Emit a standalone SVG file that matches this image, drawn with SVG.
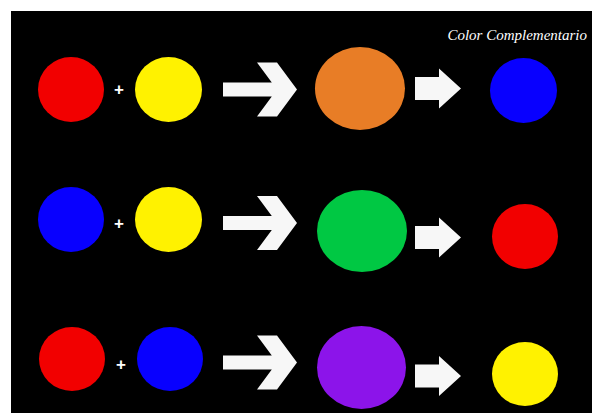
<svg xmlns="http://www.w3.org/2000/svg" xmlns:xlink="http://www.w3.org/1999/xlink" width="592" height="413" viewBox="0 0 592 413">
  <style>
    .plus { font-family: "Liberation Sans", Arial, sans-serif; font-weight: bold; font-size: 17px; fill: #ffffff; text-anchor: middle; }
    .title { font-family: "Liberation Serif", "DejaVu Serif", serif; font-style: italic; font-size: 15px; fill: #ffffff; text-anchor: end; }
    .arrow { fill: #f7f7f7; }
    .red { fill: #f20000; }
    .yellow { fill: #fff200; }
    .blue { fill: #0800ff; }
    .orange { fill: #e87d26; }
    .green { fill: #00c843; }
    .purple { fill: #8c14ea; }
  </style>
  <defs>
    <path id="bigArrow" d="M0,-7 H48.8 L34,-27 H54 L74,0 L54,27 H34 L48.8,7 H0 Z"/>
    <path id="smallArrow" d="M0,-11.5 H24 V-20 L46,0 L24,20 V11.5 H0 Z"/>
  </defs>
  <rect x="0" y="0" width="592" height="413" fill="#ffffff"/>
  <rect x="11" y="11" width="581" height="402" fill="#000000"/>
  <text class="title" x="587" y="40">Color Complementario</text>

  <g id="row1-red"><ellipse class="red" cx="71" cy="89.5" rx="33" ry="32.5"/></g>
  <g id="row1-plus"><text class="plus" x="119" y="95">+</text></g>
  <g id="row1-yellow"><ellipse class="yellow" cx="168.5" cy="89.5" rx="33.5" ry="32.5"/></g>
  <g id="row1-orange"><ellipse class="orange" cx="360" cy="88.5" rx="45" ry="41.5"/></g>
  <g id="row1-blue"><ellipse class="blue" cx="523.5" cy="90.5" rx="33.5" ry="32.5"/></g>

  <g id="row2-blue"><ellipse class="blue" cx="71" cy="219.5" rx="33" ry="32.5"/></g>
  <g id="row2-plus"><text class="plus" x="119" y="229">+</text></g>
  <g id="row2-yellow"><ellipse class="yellow" cx="168.5" cy="219.5" rx="33.5" ry="32.5"/></g>
  <g id="row2-green"><ellipse class="green" cx="362" cy="231" rx="45" ry="41"/></g>
  <g id="row2-red"><ellipse class="red" cx="525" cy="236.5" rx="33" ry="32.5"/></g>

  <g id="row3-red"><ellipse class="red" cx="72" cy="359" rx="33" ry="32"/></g>
  <g id="row3-plus"><text class="plus" x="121" y="370">+</text></g>
  <g id="row3-blue"><ellipse class="blue" cx="170" cy="359" rx="33" ry="32"/></g>
  <g id="row3-purple"><ellipse class="purple" cx="361.5" cy="367.5" rx="44.5" ry="41.5"/></g>
  <g id="row3-yellow"><ellipse class="yellow" cx="525" cy="374" rx="33" ry="32"/></g>

  <g id="connectors" class="arrow">
    <use xlink:href="#bigArrow" href="#bigArrow" transform="translate(223,89.5)"/>
    <use xlink:href="#smallArrow" href="#smallArrow" transform="translate(415,88.5)"/>
    <use xlink:href="#bigArrow" href="#bigArrow" transform="translate(223,223)"/>
    <use xlink:href="#smallArrow" href="#smallArrow" transform="translate(415,237.5)"/>
    <use xlink:href="#bigArrow" href="#bigArrow" transform="translate(223,362.5)"/>
    <use xlink:href="#smallArrow" href="#smallArrow" transform="translate(415,376)"/>
  </g>
</svg>
